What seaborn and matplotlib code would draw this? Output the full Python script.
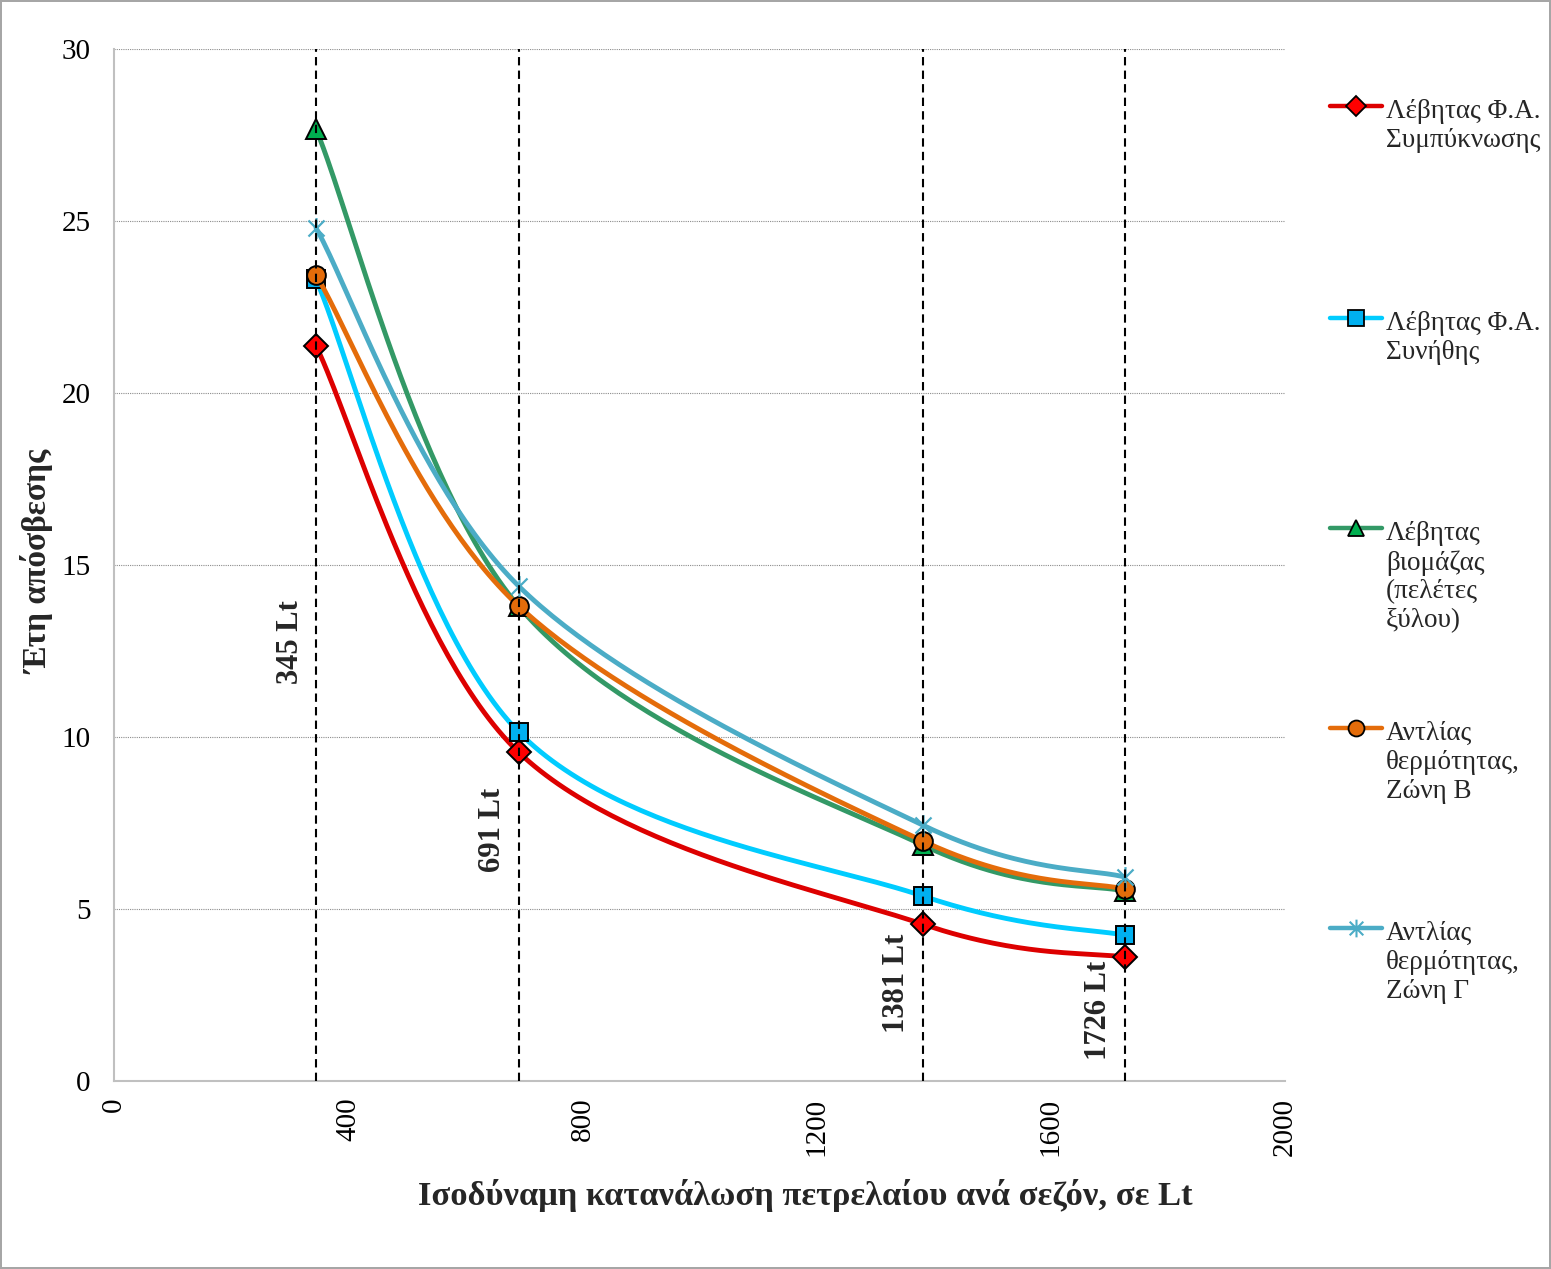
import numpy as np
import pandas as pd
import seaborn as sns
import matplotlib.pyplot as plt
from matplotlib.lines import Line2D
from matplotlib.path import Path

# data
consumption = [345, 691, 1381, 1726]
condensing_gas = [21.37, 9.56, 4.56, 3.60]
standard_gas = [23.30, 10.15, 5.38, 4.24]
biomass = [27.67, 13.80, 6.86, 5.52]
heatpump_b = [23.43, 13.81, 6.98, 5.58]
heatpump_c = [24.80, 14.39, 7.44, 5.93]

labels = [
    "Λέβητας Φ.Α.\nΣυμπύκνωσης",
    "Λέβητας Φ.Α.\nΣυνήθης",
    "Λέβητας\nβιομάζας\n(πελέτες\nξύλου)",
    "Αντλίας\nθερμότητας,\nΖώνη Β",
    "Αντλίας\nθερμότητας,\nΖώνη Γ",
]
vline_labels = ["345 Lt", "691 Lt", "1381 Lt", "1726 Lt"]
xticks = [0, 400, 800, 1200, 1600, 2000]
yticks = [0, 5, 10, 15, 20, 25, 30]

# excel-like asterisk marker (x plus vertical bar)
star = Path([(-1, -1), (1, 1), (-1, 1), (1, -1), (0, -1.3), (0, 1.3)],
            [Path.MOVETO, Path.LINETO, Path.MOVETO, Path.LINETO, Path.MOVETO, Path.LINETO])

styles = [
    dict(color="#DD0000", mfc="#FF0000", marker="D", ms=12.5),
    dict(color="#00CCFF", mfc="#00B0F0", marker="s", ms=13),
    dict(color="#339966", mfc="#00B050", marker="^", ms=14),
    dict(color="#E46C0A", mfc="#E46C0A", marker="o", ms=13.5),
    dict(color="#4BACC6", mfc="#4BACC6", marker=star, ms=15),
]
series = [condensing_gas, standard_gas, biomass, heatpump_b, heatpump_c]

W, H = 1551, 1269
AX_L, AX_R, AX_T, AX_B = 114, 1285, 49, 1081


def smooth(xs, ys, n=60):
    # bezier smoothing like Excel's "smoothed line", done in pixel space
    sx = (AX_R - AX_L) / 2000
    sy = (AX_B - AX_T) / 30
    P = np.column_stack([np.asarray(xs) * sx, np.asarray(ys) * sy])
    Pe = np.vstack([P[0], P, P[-1]])
    out = []
    t = np.linspace(0, 1, n)[:, None]
    for i in range(len(P) - 1):
        p0, p1, p2, p3 = Pe[i], Pe[i + 1], Pe[i + 2], Pe[i + 3]
        c1 = p1 + (p2 - p0) / 6
        c2 = p2 - (p3 - p1) / 6
        seg = (1 - t) ** 3 * p1 + 3 * (1 - t) ** 2 * t * c1 + 3 * (1 - t) * t ** 2 * c2 + t ** 3 * p2
        out.append(seg if i == 0 else seg[1:])
    out = np.vstack(out)
    return out[:, 0] / sx, out[:, 1] / sy


sns.set_style("white")
plt.rcParams["font.family"] = ["Liberation Serif", "DejaVu Serif"]

fig = plt.figure(figsize=(W / 100, H / 100), dpi=100)
fig.patch.set_edgecolor("#A6A6A6")
fig.patch.set_linewidth(1.5)
ax = fig.add_axes([AX_L / W, 1 - AX_B / H, (AX_R - AX_L) / W, (AX_B - AX_T) / H])

for i, (vals, st) in enumerate(zip(series, styles)):
    cx, cy = smooth(consumption, vals)
    df = pd.DataFrame({"x": cx, "y": cy})
    sns.lineplot(data=df, x="x", y="y", sort=False, estimator=None, ax=ax,
                 color=st["color"], linewidth=3.5, zorder=2 + i * 0.1)
    if st["marker"] is star:
        ax.plot(consumption, vals, ls="none", marker=star, ms=st["ms"],
                mec=st["color"], mew=1.6, zorder=2.05 + i * 0.1)
    else:
        ax.plot(consumption, vals, ls="none", marker=st["marker"], ms=st["ms"],
                mfc=st["mfc"], mec="black", mew=1.4, zorder=2.05 + i * 0.1)

# vertical reference lines
ax.vlines(consumption, 0, 30, colors="black", linestyles=(0, (4, 2.5)), linewidth=1.5, zorder=5)
label_ranges = [(11.2, 14.3), (6.1, 8.5), (1.5, 4.2), (0.7, 3.4)]
for xv, lab, (y0, y1) in zip(consumption, vline_labels, label_ranges):
    ax.annotate(lab, (xv, (y0 + y1) / 2), xytext=(-8, 0), textcoords="offset points",
                rotation=90, ha="right", va="center", fontsize=22, fontweight="bold")

ax.set_xlim(0, 2000)
ax.set_ylim(0, 30)
ax.set_xticks(xticks)
ax.set_yticks(yticks)
ax.set_xticklabels([str(v) for v in xticks], rotation=90, fontsize=21)
ax.set_yticklabels([str(v) for v in yticks], fontsize=21)
ax.set_xlabel("")
ax.set_ylabel("")
ax.yaxis.grid(True, color="#8C8C8C", linestyle=(0, (1, 1)), linewidth=0.8)
ax.xaxis.grid(False)
for s in ["top", "right"]:
    ax.spines[s].set_visible(False)
for s in ["left", "bottom"]:
    ax.spines[s].set_color("#C0C0C0")
    ax.spines[s].set_linewidth(1.5)
ax.tick_params(axis="both", which="both", direction="out", color="#C0C0C0", width=1.2,
               length=6, colors="black")
ax.tick_params(axis="y", pad=11)
ax.tick_params(axis="x", pad=6)
ax.tick_params(axis="both", color="#C0C0C0")

fig.text(805 / W, 1 - 1205 / H, "Ισοδύναμη κατανάλωση πετρελαίου ανά σεζόν, σε Lt",
         ha="center", va="baseline", fontsize=24.8, fontweight="bold")
fig.text(38 / W, 1 - 562 / H, "Έτη απόσβεσης", rotation=90,
         ha="center", va="center", fontsize=24, fontweight="bold")

# legend, drawn entry by entry
leg_y = [106, 318, 528, 728, 928]
for y, lab, st in zip(leg_y, labels, styles):
    yf = 1 - y / H
    fig.add_artist(Line2D([1330 / W, 1382 / W], [yf, yf], transform=fig.transFigure,
                          color=st["color"], linewidth=3.2))
    if st["marker"] is star:
        fig.add_artist(Line2D([1356 / W], [yf], transform=fig.transFigure, ls="none",
                              marker=star, ms=st["ms"] * 0.85, mec=st["color"], mew=1.5))
    else:
        fig.add_artist(Line2D([1356 / W], [yf], transform=fig.transFigure, ls="none",
                              marker=st["marker"], ms=st["ms"] * 0.85, mfc=st["mfc"],
                              mec="black", mew=1.3))
    fig.text(1386 / W, 1 - (y - 7) / H, lab, ha="left", va="top", fontsize=19.5,
             linespacing=1.2)

plt.savefig("out.png", dpi=100)
